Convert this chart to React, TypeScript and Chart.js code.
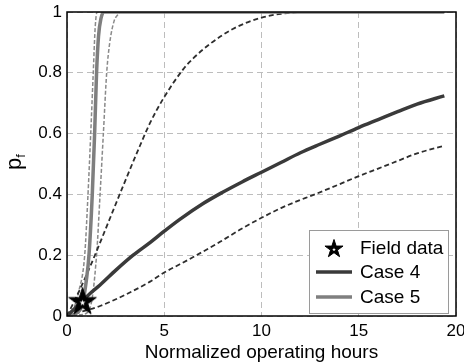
import React, { useEffect, useRef } from "react";
import { Chart, registerables } from "chart.js";

Chart.register(...registerables);

// ---- data ----
const xTicks = [0, 5, 10, 15, 20];
const yTicks = [0, 0.2, 0.4, 0.6, 0.8, 1];

const fieldX = [0.8];
const fieldY = [0.05];

const case4X = [0, 0.4, 0.8, 1.2, 1.7, 2.5, 3.4, 4.3, 5, 5.8, 7, 8, 9, 10, 11, 12, 13, 14, 15, 16, 17, 18, 19.4];
const case4Y = [0, 0.025, 0.05, 0.075, 0.102, 0.15, 0.2, 0.243, 0.279, 0.318, 0.37, 0.407, 0.441, 0.473, 0.505, 0.537, 0.565, 0.592, 0.62, 0.646, 0.672, 0.697, 0.724];

const case4UpX = [0, 0.5, 1, 1.5, 2.2, 2.9, 3.75, 4.27, 4.95, 5.98, 6.5, 7.35, 8.55, 9.92, 11, 12.15, 19.4];
const case4UpY = [0, 0.065, 0.135, 0.21, 0.32, 0.43, 0.56, 0.635, 0.715, 0.812, 0.848, 0.895, 0.945, 0.98, 0.994, 1.0, 1.0];

const case4LoX = [0, 0.8, 1.7, 3, 4.27, 5, 5.8, 6.66, 7.87, 9, 10, 11, 12, 12.5, 13.5, 15, 16, 17, 18, 19.4];
const case4LoY = [0, 0.015, 0.033, 0.07, 0.113, 0.143, 0.17, 0.2, 0.244, 0.288, 0.323, 0.355, 0.382, 0.394, 0.42, 0.46, 0.485, 0.51, 0.535, 0.56];

const case5X = [0, 0.5, 0.8, 1.0, 1.13, 1.3, 1.42, 1.52, 1.62, 1.75, 1.9, 19.4];
const case5Y = [0, 0.01, 0.04, 0.12, 0.2, 0.4, 0.6, 0.8, 0.92, 0.98, 1.0, 1.0];

const case5UpX = [0, 0.3, 0.6, 0.91, 1.08, 1.22, 1.35, 1.45, 1.55, 19.4];
const case5UpY = [0, 0.02, 0.08, 0.2, 0.4, 0.6, 0.8, 0.95, 1.0, 1.0];

const case5LoX = [0, 0.8, 1.2, 1.52, 1.7, 1.87, 2.04, 2.2, 2.42, 2.6, 2.76, 19.4];
const case5LoY = [0, 0.005, 0.03, 0.2, 0.4, 0.6, 0.8, 0.9, 0.97, 0.99, 1.0, 1.0];

const legendLabels = ["Field data", "Case 4", "Case 5"];

const FONT = "'Liberation Sans', Arial, Helvetica, sans-serif";
const C4 = "#3a3a3a";
const C5 = "#7f7f7f";
const C4D = "#2e2e2e";
const C5D = "#8a8a8a";

const pts = (xs: number[], ys: number[]) => xs.map((x, i) => ({ x, y: ys[i] }));

function starPath(ctx: CanvasRenderingContext2D, cx: number, cy: number, R: number) {
  const r = R * 0.382;
  ctx.beginPath();
  for (let i = 0; i < 10; i++) {
    const a = -Math.PI / 2 + (i * Math.PI) / 5;
    const rr = i % 2 === 0 ? R : r;
    const px = cx + rr * Math.cos(a);
    const py = cy + rr * Math.sin(a);
    if (i === 0) ctx.moveTo(px, py);
    else ctx.lineTo(px, py);
  }
  ctx.closePath();
}

function drawStar(ctx: CanvasRenderingContext2D, cx: number, cy: number, R: number) {
  ctx.save();
  starPath(ctx, cx, cy, R);
  ctx.fillStyle = "#000";
  ctx.fill();
  ctx.lineWidth = 1;
  ctx.strokeStyle = "#000";
  ctx.stroke();
  starPath(ctx, cx, cy + R * 0.06, R * 0.22);
  ctx.fillStyle = "#fff";
  ctx.fill();
  ctx.restore();
}

function makeStarCanvas(size: number) {
  const c = document.createElement("canvas");
  c.width = size;
  c.height = size;
  const ctx = c.getContext("2d")!;
  drawStar(ctx, size / 2, size / 2 + size * 0.04, size / 2 - 1);
  return c;
}

const framePlugin = {
  id: "frameAndLabels",
  afterDraw(chart: any) {
    const { ctx, chartArea } = chart;
    const { left, right, top, bottom } = chartArea;
    ctx.save();
    ctx.strokeStyle = "#000";
    ctx.lineWidth = 1.5;
    ctx.strokeRect(left, top, right - left, bottom - top);

    // y axis title p_f
    ctx.fillStyle = "#000";
    ctx.translate(21, 162);
    ctx.rotate(-Math.PI / 2);
    ctx.font = `22px ${FONT}`;
    const wp = ctx.measureText("p").width;
    ctx.font = `13px ${FONT}`;
    const wf = ctx.measureText("f").width;
    const start = -(wp + wf) / 2;
    ctx.textBaseline = "alphabetic";
    ctx.textAlign = "left";
    ctx.font = `22px ${FONT}`;
    ctx.fillText("p", start, 0);
    ctx.font = `13px ${FONT}`;
    ctx.fillText("f", start + wp, 4);
    ctx.restore();

    // legend
    ctx.save();
    const bx = 309, by = 230, bw = 139, bh = 83;
    ctx.fillStyle = "#fff";
    ctx.fillRect(bx, by, bw, bh);
    ctx.strokeStyle = "#9a9a9a";
    ctx.lineWidth = 1;
    ctx.strokeRect(bx + 0.5, by + 0.5, bw, bh);
    const rows = [248, 272, 297];
    drawStar(ctx, 334, rows[0] + 1, 9.5);
    ctx.lineWidth = 3.5;
    ctx.strokeStyle = C4;
    ctx.beginPath();
    ctx.moveTo(316, rows[1]);
    ctx.lineTo(352, rows[1]);
    ctx.stroke();
    ctx.strokeStyle = C5;
    ctx.beginPath();
    ctx.moveTo(316, rows[2]);
    ctx.lineTo(352, rows[2]);
    ctx.stroke();
    ctx.fillStyle = "#000";
    ctx.font = `19px ${FONT}`;
    ctx.textBaseline = "middle";
    ctx.textAlign = "left";
    legendLabels.forEach((t, i) => ctx.fillText(t, 360, rows[i] + 1));
    ctx.restore();
  },
};

export default function App() {
  const ref = useRef<HTMLCanvasElement | null>(null);

  useEffect(() => {
    document.body.style.margin = "0";
    const canvas = ref.current!;
    const star = makeStarCanvas(31);
    const line = (data: any, color: string, width: number, dash: number[] | undefined) => ({
      type: "line",
      data,
      borderColor: color,
      backgroundColor: color,
      borderWidth: width,
      borderDash: dash || [],
      pointRadius: 0,
      fill: false,
      cubicInterpolationMode: "monotone",
    });
    const chart = new Chart(canvas, {
      type: "line",
      data: {
        datasets: [
          {
            type: "line",
            data: pts(fieldX, fieldY),
            showLine: false,
            pointStyle: star as any,
            pointRadius: 14,
            borderColor: "#000",
            backgroundColor: "#000",
          } as any,
          line(pts(case4X, case4Y), C4, 3.5, undefined),
          line(pts(case5X, case5Y), C5, 3.5, undefined),
          line(pts(case4UpX, case4UpY), C4D, 1.8, [5, 3]),
          line(pts(case4LoX, case4LoY), C4D, 1.8, [5, 3]),
          line(pts(case5UpX, case5UpY), C5D, 1.5, [4, 2]),
          line(pts(case5LoX, case5LoY), C5D, 1.5, [4, 2]),
        ] as any,
      },
      options: {
        responsive: false,
        animation: false,
        devicePixelRatio: 1,
        layout: { autoPadding: false, padding: { top: 12, right: 8, left: 0, bottom: 0 } },
        plugins: { legend: { display: false }, tooltip: { enabled: false } },
        scales: {
          x: {
            type: "linear",
            min: 0,
            max: 20,
            afterBuildTicks: (s: any) => {
              s.ticks = xTicks.map((v) => ({ value: v }));
            },
            ticks: {
              color: "#000",
              font: { family: FONT, size: 17 },
              padding: 5,
              maxRotation: 0,
              callback: (v: any) => String(Number(v)),
            },
            grid: { color: "#bdbdbd", lineWidth: 1, drawTicks: false },
            border: { display: false, dash: [6, 4] },
            title: {
              display: true,
              text: "Normalized operating hours",
              color: "#000",
              font: { family: FONT, size: 19 },
              padding: { top: 0, bottom: 0 },
            },
            afterFit: (s: any) => {
              s.height = 48;
              s.paddingLeft = 0;
              s.paddingRight = 0;
            },
          },
          y: {
            type: "linear",
            min: 0,
            max: 1,
            afterBuildTicks: (s: any) => {
              s.ticks = yTicks.map((v) => ({ value: v }));
            },
            ticks: {
              color: "#000",
              font: { family: FONT, size: 17 },
              padding: 5,
              callback: (v: any) => String(Math.round(Number(v) * 10) / 10),
            },
            grid: { color: "#bdbdbd", lineWidth: 1, drawTicks: false },
            border: { display: false, dash: [6, 4] },
            afterFit: (s: any) => {
              s.width = 67;
              s.paddingTop = 0;
              s.paddingBottom = 0;
            },
          },
        },
      } as any,
      plugins: [framePlugin],
    });
    return () => chart.destroy();
  }, []);

  return (
    <div style={{ width: 464, height: 364 }}>
      <canvas ref={ref} width={464} height={364} style={{ display: "block" }} />
    </div>
  );
}
